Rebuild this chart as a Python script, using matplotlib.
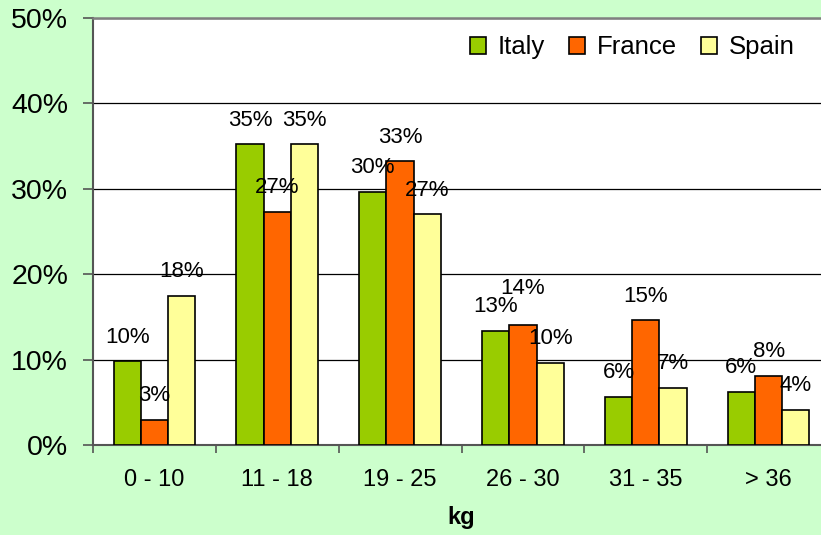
import numpy as np
import matplotlib
matplotlib.use("Agg")
import matplotlib.pyplot as plt

plt.rcParams["font.family"] = ["Liberation Sans", "DejaVu Sans"]

# data
categories = ["0 - 10", "11 - 18", "19 - 25", "26 - 30", "31 - 35", "> 36"]
italy = [9.8, 35.2, 29.6, 13.4, 5.6, 6.2]
france = [2.9, 27.3, 33.2, 14.0, 14.6, 8.1]
spain = [17.5, 35.2, 27.0, 9.6, 6.7, 4.1]
italy_labels = ["10%", "35%", "30%", "13%", "6%", "6%"]
france_labels = ["3%", "27%", "33%", "14%", "15%", "8%"]
spain_labels = ["18%", "35%", "27%", "10%", "7%", "4%"]

series = [
    ("Italy", italy, italy_labels, "#99CC00"),
    ("France", france, france_labels, "#FF6600"),
    ("Spain", spain, spain_labels, "#FFFF99"),
]

bg = "#CCFFCC"
fig = plt.figure(figsize=(8.21, 5.35), dpi=100, facecolor=bg)
ax = fig.add_axes([93 / 821, 1 - 445 / 535, 737 / 821, 427 / 535])
ax.set_facecolor("white")

x = np.arange(len(categories))
bw = 0.222
for i, (name, vals, labels, col) in enumerate(series):
    pos = x + (i - 1) * bw
    ax.bar(pos, vals, width=bw, color=col, edgecolor="black", linewidth=1.2,
           label=name, zorder=3)
    for j, (p, v, lab) in enumerate(zip(pos, vals, labels)):
        # the 14% label sits a bit higher in the original to clear the 13%
        extra = 9 if (name == "France" and j == 3) else 0
        ax.annotate(lab, (p, v), xytext=(0, 17.5 + extra), textcoords="offset points",
                    ha="center", va="center", fontsize=16, zorder=4)

ax.set_xlim(-0.5, len(categories) - 0.5)
ax.set_ylim(0, 50)
ax.set_yticks(np.arange(0, 51, 10))
ax.set_yticklabels([f"{v}%" for v in range(0, 51, 10)], fontsize=20.5)
ax.yaxis.grid(True, color="black", linewidth=0.9, zorder=0)
ax.set_axisbelow(True)

# category labels centred, tick marks on category boundaries
ax.set_xticks(x)
ax.set_xticklabels(categories, fontsize=17)
ax.tick_params(axis="x", length=0, pad=17)
ax.set_xticks(np.arange(-0.5, len(categories) + 0.5, 1), minor=True)
ax.tick_params(axis="x", which="minor", length=6, width=1.2, color="#555555")
ax.tick_params(axis="y", length=7, width=1.2, color="#555555", pad=11)

for s in ["left", "bottom"]:
    ax.spines[s].set_color("#555555")
    ax.spines[s].set_linewidth(1.5)
ax.spines["top"].set_color("#808080")
ax.spines["top"].set_linewidth(1.8)
ax.spines["right"].set_visible(False)

ax.set_xlabel("kg", fontsize=17, fontweight="bold", labelpad=11)

leg = ax.legend(loc="center right", bbox_to_anchor=(0.966, 0.931), ncol=3,
                frameon=False, fontsize=18.5, handlelength=0.62, handleheight=0.62,
                handletextpad=0.45, columnspacing=0.95, borderaxespad=0)

fig.savefig("out.png", dpi=100, facecolor=bg)
